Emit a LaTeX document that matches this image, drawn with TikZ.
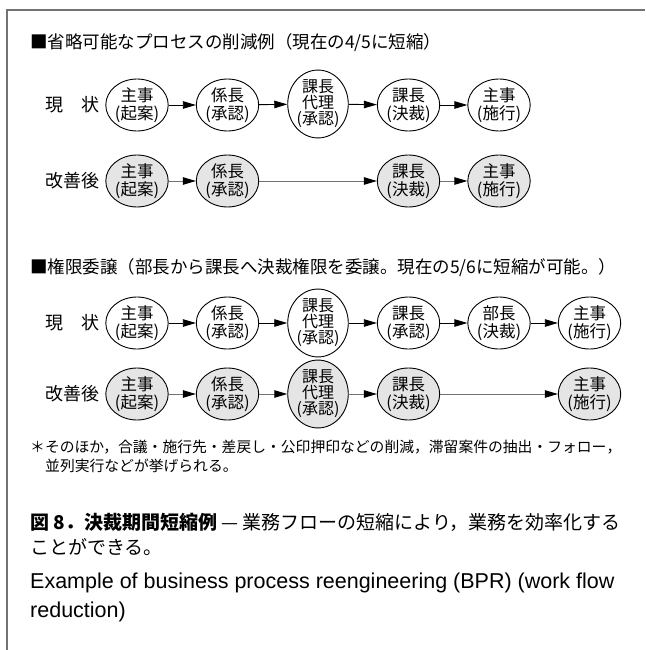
\documentclass[tikz,border=0pt]{standalone}
\usepackage{fontspec}
\setmainfont{Noto Sans CJK JP}
\newfontfamily\en{Liberation Sans}
\usetikzlibrary{shapes.geometric,arrows.meta}
\begin{document}
\begin{tikzpicture}[x=1pt,y=-1pt,
  proc/.style={ellipse, draw=black, line width=0.9pt, minimum width=60pt, minimum height=52pt,
    inner sep=0pt, align=center, font=\fontsize{16.5}{18}\selectfont, fill=white},
  tallproc/.style={proc, minimum height=62pt, font=\fontsize{16}{16}\selectfont},
  newproc/.style={fill=black!10},
  arr/.style={-{Triangle[length=13pt,width=7.5pt]}, line width=0.9pt, draw=black},
  arrg/.style={-{Triangle[length=13pt,width=7.5pt,color=black]}, line width=1pt, draw=black!55},
  rowlabel/.style={anchor=east, inner sep=0pt, font=\fontsize{18}{18}\selectfont},
  head/.style={anchor=west, inner sep=0pt, font=\fontsize{17.5}{17.5}\selectfont},
  note/.style={anchor=west, inner sep=0pt, font=\fontsize{14.8}{14.8}\selectfont},
  captext/.style={anchor=west, inner sep=0pt, font=\fontsize{19}{19}\selectfont},
  entext/.style={anchor=west, inner sep=0pt, font=\en\fontsize{21.5}{21.5}\selectfont},
  frameline/.style={draw=black!55, line width=1.5pt}
]
\useasboundingbox (0,0) rectangle (645,650);
\coordinate (ftl) at (7,10);
\coordinate (ftr) at (645,10);
\coordinate (fbl) at (7,650);
\draw[frameline] (ftr) -- (ftl) -- (fbl);

% section 1
\node[head] (h1) at (30,43) {■省略可能なプロセスの削減例（現在の4/5に短縮）};
\node[rowlabel] (l1) at (100,105) {現\hspace{1em}状};
\node[proc] (a1) at (137,105) {主事\\(起案)};
\node[proc] (a2) at (227.5,105) {係長\\(承認)};
\node[tallproc] (a3) at (318,104) {課長\\代理\\(承認)};
\node[proc] (a4) at (408.5,105) {課長\\(決裁)};
\node[proc] (a5) at (499,105) {主事\\(施行)};
\draw[arr] (a1) -- (a2);
\draw[arr] (a2) -- (a3);
\draw[arr] (a3) -- (a4);
\draw[arr] (a4) -- (a5);

\node[rowlabel] (l2) at (100,181) {改善後};
\node[proc,newproc] (b1) at (137,181) {主事\\(起案)};
\node[proc,newproc] (b2) at (227.5,181) {係長\\(承認)};
\node[proc,newproc] (b4) at (408.5,181) {課長\\(決裁)};
\node[proc,newproc] (b5) at (499,181) {主事\\(施行)};
\draw[arrg] (b1) -- (b2);
\draw[arrg] (b2) -- (b4);
\draw[arrg] (b4) -- (b5);

% section 2
\node[head] (h2) at (30,268) {■権限委譲（部長から課長へ決裁権限を委譲。現在の5/6に短縮が可能。）};
\node[rowlabel] (l3) at (100,323) {現\hspace{1em}状};
\node[proc] (c1) at (137,323) {主事\\(起案)};
\node[proc] (c2) at (227.5,323) {係長\\(承認)};
\node[tallproc] (c3) at (318,323) {課長\\代理\\(承認)};
\node[proc] (c4) at (408.5,323) {課長\\(承認)};
\node[proc] (c5) at (499,323) {部長\\(決裁)};
\node[proc] (c6) at (589.5,323) {主事\\(施行)};
\draw[arr] (c1) -- (c2);
\draw[arr] (c2) -- (c3);
\draw[arr] (c3) -- (c4);
\draw[arr] (c4) -- (c5);
\draw[arr] (c5) -- (c6);

\node[rowlabel] (l4) at (100,394) {改善後};
\node[proc,newproc] (d1) at (137,394) {主事\\(起案)};
\node[proc,newproc] (d2) at (227.5,394) {係長\\(承認)};
\node[tallproc,newproc] (d3) at (318,394) {課長\\代理\\(承認)};
\node[proc,newproc] (d4) at (408.5,394) {課長\\(決裁)};
\node[proc,newproc] (d6) at (589.5,394) {主事\\(施行)};
\draw[arrg] (d1) -- (d2);
\draw[arrg] (d2) -- (d3);
\draw[arrg] (d3) -- (d4);
\draw[arrg] (d4) -- (d6);

% notes
\node[note] (n1) at (30,447) {＊そのほか，合議・施行先・差戻し・公印押印などの削減，滞留案件の抽出・フォロー，};
\node[note] (n2) at (45,466) {並列実行などが挙げられる。};

% caption
\node[captext] (k1) at (30,522) {\textbf{図 8．決裁期間短縮例} — 業務フローの短縮により，業務を効率化する};
\node[captext] (k2) at (30,547) {ことができる。};
\node[entext] (e1) at (30,583) {Example of business process reengineering (BPR) (work flow};
\node[entext] (e2) at (30,612) {reduction)};
\end{tikzpicture}
\end{document}
